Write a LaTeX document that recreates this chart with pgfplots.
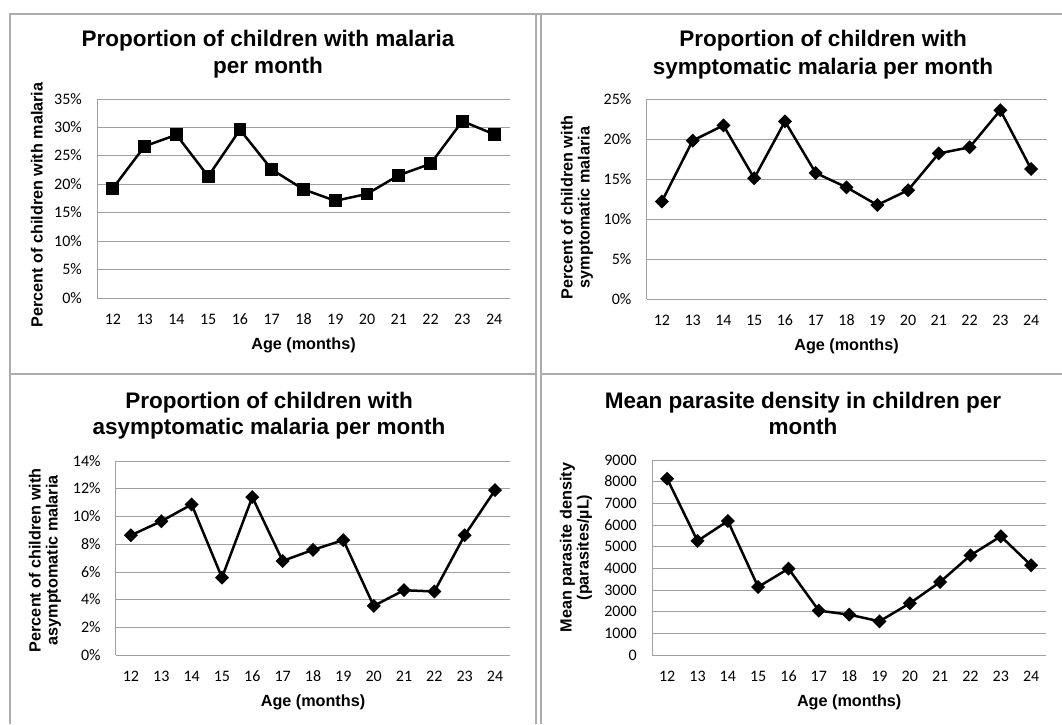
\documentclass[border=0pt]{standalone}
\usepackage{fontspec}
\setmainfont{Liberation Sans}
\newfontfamily\tickfont{Carlito}[Numbers=Lining]
\usepackage{pgfplots}
\pgfplotsset{compat=1.18}

\definecolor{gridc}{RGB}{160,160,160}
\definecolor{framec}{RGB}{172,172,172}

\tikzset{
  titlef/.style={font=\fontsize{22.5}{26}\bfseries, inner sep=0pt},
  labelf/.style={font=\fontsize{16.2}{19}\bfseries, inner sep=0pt},
}

\pgfplotsset{
  panel/.style={
    scale only axis, anchor=north west,
    xmin=11.5, xmax=24.5, xtick={12,...,24},
    axis lines=left,
    axis line style={draw=gridc, line width=1pt, -},
    ymajorgrids, grid style={draw=gridc, line width=1pt},
    major tick length=0pt,
    tick label style={font=\fontsize{16}{18}\tickfont, inner sep=0pt},
    xticklabel style={anchor=base, yshift=-26pt},
    yticklabel style={anchor=base east, xshift=-15pt, yshift=-5pt},
    /pgf/number format/assume math mode=true,
    /pgf/number format/1000 sep={},
    clip=false,
  },
  pct/.style={yticklabel={\pgfmathprintnumber{\tick}\%}},
  sq/.style={black, line width=2.5pt, mark=square*, mark size=5.2pt, mark options={solid}},
  dm/.style={black, line width=2.5pt, mark=square*, mark size=3.7pt, mark options={solid, rotate=45}},
}

\begin{document}
\begin{tikzpicture}
\useasboundingbox (0,0) rectangle (1062pt,-724pt);

% panel frames
\begin{scope}[draw=framec, line width=2pt]
  \draw (9.7pt,-724pt) -- (9.7pt,-13.5pt) -- (1062pt,-13.5pt);
  \draw (536pt,-13.5pt) -- (536pt,-724pt);
  \draw (541pt,-13.5pt) -- (541pt,-724pt);
  \draw (9.7pt,-373.5pt) -- (536pt,-373.5pt);
  \draw (541pt,-373.5pt) -- (1062pt,-373.5pt);
\end{scope}

% top left: all malaria
\begin{axis}[panel, pct, at={(97pt,-99pt)}, width=413pt, height=199pt,
  ymin=0, ymax=35, ytick={0,5,...,35}]
\addplot[sq] coordinates {(12,19.3) (13,26.7) (14,28.7) (15,21.4) (16,29.6) (17,22.6) (18,19.1)
  (19,17.1) (20,18.3) (21,21.6) (22,23.6) (23,31.1) (24,28.8)};
\end{axis}
\node[titlef, anchor=base] at (268pt,-46.7pt) {Proportion of children with malaria};
\node[titlef, anchor=base] at (268pt,-73.3pt) {per month};
\node[labelf, anchor=base, rotate=90] at (42.7pt,-205pt) {Percent of children with malaria};
\node[labelf, anchor=base] at (303.5pt,-349.3pt) {Age (months)};

% top right: symptomatic
\begin{axis}[panel, pct, at={(646.5pt,-99pt)}, width=400pt, height=200pt,
  ymin=0, ymax=25, ytick={0,5,...,25}]
\addplot[dm] coordinates {(12,12.2) (13,19.8) (14,21.7) (15,15.1) (16,22.2) (17,15.75) (18,13.96)
  (19,11.75) (20,13.6) (21,18.2) (22,18.96) (23,23.6) (24,16.25)};
\end{axis}
\node[titlef, anchor=base] at (823pt,-46.7pt) {Proportion of children with};
\node[titlef, anchor=base] at (823pt,-74pt) {symptomatic malaria per month};
\node[labelf, anchor=base, rotate=90] at (572.7pt,-207.5pt) {Percent of children with};
\node[labelf, anchor=base, rotate=90] at (589.5pt,-207.5pt) {symptomatic malaria};
\node[labelf, anchor=base] at (846.5pt,-350.7pt) {Age (months)};

% bottom left: asymptomatic
\begin{axis}[panel, pct, at={(115.8pt,-461pt)}, width=394.4pt, height=194.3pt,
  ymin=0, ymax=14, ytick={0,2,...,14}]
\addplot[dm] coordinates {(12,8.65) (13,9.66) (14,10.87) (15,5.6) (16,11.4) (17,6.8) (18,7.6)
  (19,8.3) (20,3.56) (21,4.69) (22,4.6) (23,8.65) (24,11.9)};
\end{axis}
\node[titlef, anchor=base] at (269pt,-408pt) {Proportion of children with};
\node[titlef, anchor=base] at (269pt,-434.3pt) {asymptomatic malaria per month};
\node[labelf, anchor=base, rotate=90] at (40.5pt,-560.3pt) {Percent of children with};
\node[labelf, anchor=base, rotate=90] at (57.5pt,-560.3pt) {asymptomatic malaria};
\node[labelf, anchor=base] at (313pt,-706.3pt) {Age (months)};

% bottom right: parasite density
\begin{axis}[panel, at={(652pt,-460.3pt)}, width=394.3pt, height=195pt,
  ymin=0, ymax=9000, ytick={0,1000,...,9000}]
\addplot[dm] coordinates {(12,8150) (13,5277) (14,6200) (15,3154) (16,4000) (17,2062) (18,1877)
  (19,1569) (20,2400) (21,3385) (22,4615) (23,5492) (24,4154)};
\end{axis}
\node[titlef, anchor=base] at (803pt,-408.7pt) {Mean parasite density in children per};
\node[titlef, anchor=base] at (803pt,-434.3pt) {month};
\node[labelf, anchor=base, rotate=90] at (571.7pt,-547.5pt) {Mean parasite density};
\node[labelf, anchor=base, rotate=90] at (588.7pt,-547.5pt) {(parasites/µL)};
\node[labelf, anchor=base] at (849.2pt,-706.3pt) {Age (months)};
\end{tikzpicture}
\end{document}
